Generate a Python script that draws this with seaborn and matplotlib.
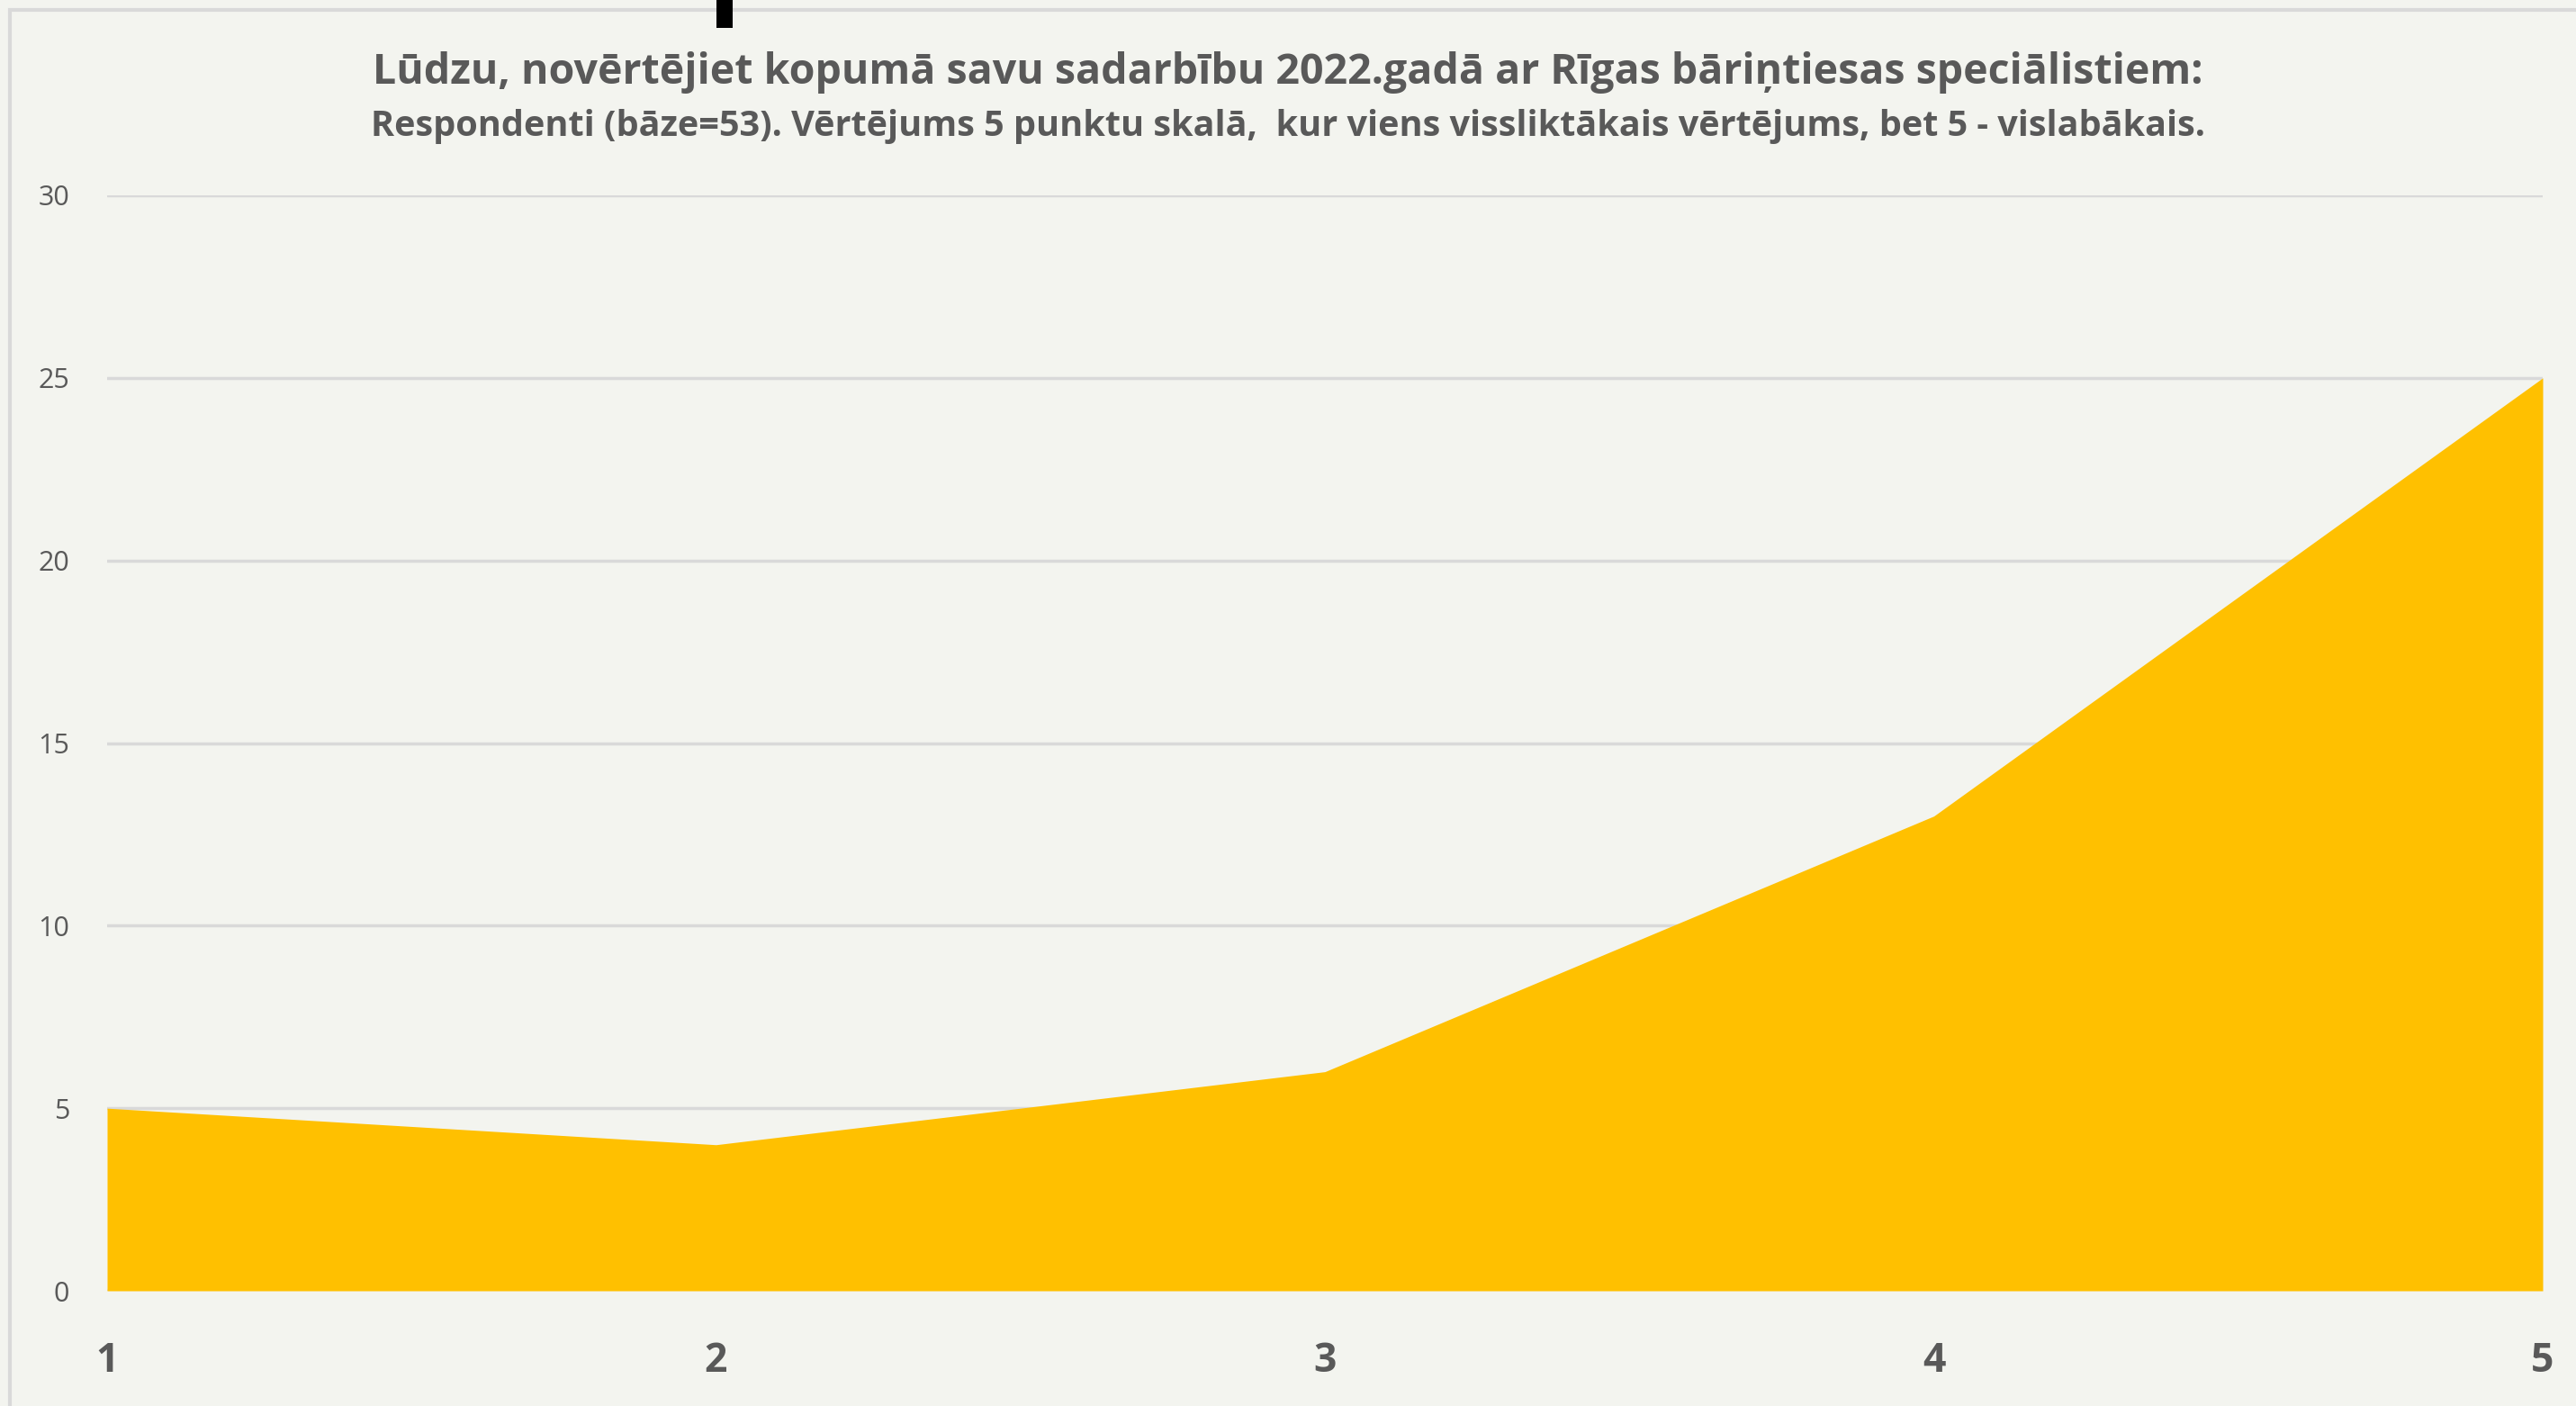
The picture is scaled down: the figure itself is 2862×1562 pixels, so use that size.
import matplotlib
matplotlib.use("Agg")
import matplotlib.pyplot as plt
from matplotlib import font_manager
from matplotlib.patches import Rectangle
import pandas as pd
import seaborn as sns

# -------------------------------
# Data
# -------------------------------
scores = [1, 2, 3, 4, 5]
respondents = [5, 4, 6, 13, 25]
y_ticks = [0, 5, 10, 15, 20, 25, 30]

title = "Lūdzu, novērtējiet kopumā savu sadarbību 2022.gadā ar Rīgas bāriņtiesas speciālistiem:"
subtitle = ("Respondenti (bāze=53). Vērtējums 5 punktu skalā,  kur viens vissliktākais vērtējums, "
            "bet 5 - vislabākais.")

df = pd.DataFrame({"score": scores, "count": respondents})

# -------------------------------
# Style
# -------------------------------
bg = "#F3F4EF"
fill = "#FFC000"
text_col = "#595959"
grid_col = "#D9D9D9"

sns.set_theme(style="white")
names = {f.name for f in font_manager.fontManager.ttflist}
family = "Liberation Sans Narrow" if "Liberation Sans Narrow" in names else "Open Sans"
plt.rcParams["font.family"] = [family, "DejaVu Sans"]

W, H = 2862, 1562
fig = plt.figure(figsize=(W / 100, H / 100), dpi=100, facecolor=bg)
ax = fig.add_axes([119 / W, 1 - 1434 / H, (2825 - 119) / W, (1434 - 217) / H])
ax.set_facecolor(bg)

# -------------------------------
# Area chart
# -------------------------------
sns.lineplot(data=df, x="score", y="count", ax=ax, color=fill, linewidth=0)
ax.fill_between(df["score"], df["count"], color=fill, linewidth=0, zorder=2)

ax.set_xlim(1, 5)
ax.set_ylim(0, 30)
ax.set_yticks(y_ticks)
ax.set_xticks(scores)
ax.set_xticklabels([str(s) for s in scores], fontsize=32, fontweight="bold", color=text_col)
ax.set_yticklabels([str(t) for t in y_ticks], fontsize=22, color=text_col)
ax.tick_params(axis="x", length=0, pad=40)
ax.tick_params(axis="y", length=0, pad=30)
ax.yaxis.grid(True, color=grid_col, linewidth=2.5)
ax.set_axisbelow(True)
ax.set_xlabel("")
ax.set_ylabel("")
for s in ax.spines.values():
    s.set_visible(False)
ax.axhline(0, color=grid_col, linewidth=2.5, zorder=1)

fig.text(0.5, 1 - 80 / H, title, ha="center", va="center",
         fontsize=33.5, fontweight="bold", color=text_col)
fig.text(0.5, 1 - 140 / H, subtitle, ha="center", va="center",
         fontsize=28.5, fontweight="bold", color=text_col)

# outer chart frame and the small black mark at the top
fig.patches.append(Rectangle((11 / W, -0.1), 1.2, 1 - 11 / H + 0.1, transform=fig.transFigure,
                             fill=False, edgecolor=grid_col, linewidth=3))
fig.patches.append(Rectangle((796 / W, 1 - 31 / H), 18 / W, 31 / H, transform=fig.transFigure,
                             facecolor="black", edgecolor="none"))

fig.savefig("out.png", dpi=100, facecolor=bg)
